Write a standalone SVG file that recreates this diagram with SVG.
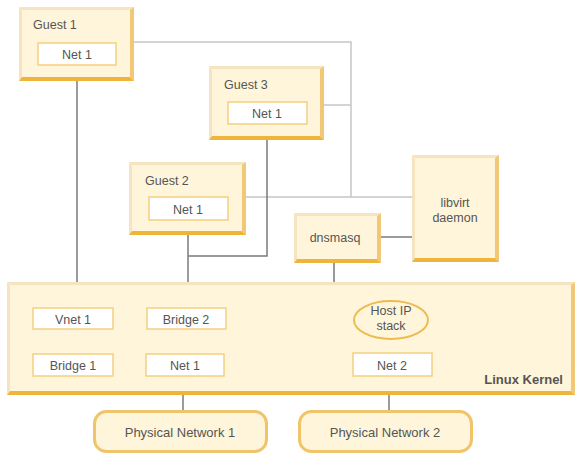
<svg xmlns="http://www.w3.org/2000/svg" width="576" height="453" viewBox="0 0 576 453">
<style>
.fill{fill:#fff5da}
.bt{fill:#f6e3c0}
.br{fill:#f1c877}
.bb{fill:#eeb43c}
.inner{fill:#ffffff;stroke:#f5cf80;stroke-width:1.5}
.t{font-family:"Liberation Sans",Arial,sans-serif;font-size:12.5px;fill:#555555}
.c{text-anchor:middle}
.k{font-family:"Liberation Sans",Arial,sans-serif;font-size:13px;font-weight:bold;fill:#555555;text-anchor:end}
.dk{stroke:#7a7a7a;stroke-width:1.5;fill:none}
.lt{stroke:#c6c6c6;stroke-width:1.5;fill:none}
.phys{fill:#fff5da;stroke:#f0c46a;stroke-width:3}
</style>
<rect width="576" height="453" fill="#ffffff"/>
<g id="connectors">
<polyline class="lt" points="134,42 351,42 351,197"/>
<line class="lt" x1="324" y1="105" x2="351" y2="105"/>
<line class="lt" x1="246" y1="197" x2="412" y2="197"/>
<line class="dk" x1="381" y1="237" x2="412" y2="237"/>
<line class="dk" x1="77" y1="65" x2="77" y2="308"/>
<polyline class="dk" points="267,124 267,256 188,256"/>
<line class="dk" x1="188" y1="220" x2="188" y2="308"/>
<polyline class="dk" points="334,263 334,318 226,318"/>
<line class="dk" x1="76" y1="329" x2="76" y2="354"/>
<line class="dk" x1="113" y1="364" x2="146" y2="364"/>
<line class="dk" x1="183" y1="376" x2="183" y2="411"/>
<line class="dk" x1="389" y1="339" x2="389" y2="353"/>
<line class="dk" x1="389" y1="376" x2="389" y2="411"/>
</g>
<g id="kernel">
<rect class="fill" x="7" y="282" width="568" height="113"/>
<polygon class="bt" points="7,282 575,282 571,285 10,285"/>
<polygon class="bt" points="7,282 10,285 10,391 7,395"/>
<polygon class="br" points="575,282 575,395 571,391 571,285"/>
<polygon class="bb" points="7,395 575,395 571,391 10,391"/>
<text class="k" x="563" y="384">Linux Kernel</text>
</g>
<g id="guest1">
<rect class="fill" x="19" y="7" width="115" height="74"/>
<polygon class="bt" points="19,7 134,7 130,10 22,10"/>
<polygon class="bt" points="19,7 22,10 22,77 19,81"/>
<polygon class="br" points="134,7 134,81 130,77 130,10"/>
<polygon class="bb" points="19,81 134,81 130,77 22,77"/>
<text class="t" x="33" y="29">Guest 1</text>
<rect class="inner" x="38" y="43" width="78" height="22"/>
<text class="t c" x="77" y="59">Net 1</text>
</g>
<g id="guest3">
<rect class="fill" x="209" y="66" width="115" height="74"/>
<polygon class="bt" points="209,66 324,66 320,69 212,69"/>
<polygon class="bt" points="209,66 212,69 212,136 209,140"/>
<polygon class="br" points="324,66 324,140 320,136 320,69"/>
<polygon class="bb" points="209,140 324,140 320,136 212,136"/>
<text class="t" x="224" y="89">Guest 3</text>
<rect class="inner" x="228" y="102" width="79" height="22"/>
<text class="t c" x="267" y="118">Net 1</text>
</g>
<g id="guest2">
<rect class="fill" x="129" y="162" width="117" height="73"/>
<polygon class="bt" points="129,162 246,162 242,165 132,165"/>
<polygon class="bt" points="129,162 132,165 132,231 129,235"/>
<polygon class="br" points="246,162 246,235 242,231 242,165"/>
<polygon class="bb" points="129,235 246,235 242,231 132,231"/>
<text class="t" x="145" y="185">Guest 2</text>
<rect class="inner" x="149" y="197" width="79" height="23"/>
<text class="t c" x="188" y="214">Net 1</text>
</g>
<g id="libvirt">
<rect class="fill" x="412" y="155" width="87" height="107"/>
<polygon class="bt" points="412,155 499,155 495,158 415,158"/>
<polygon class="bt" points="412,155 415,158 415,258 412,262"/>
<polygon class="br" points="499,155 499,262 495,258 495,158"/>
<polygon class="bb" points="412,262 499,262 495,258 415,258"/>
<text class="t c" x="455" y="207">libvirt</text>
<text class="t c" x="455" y="222">daemon</text>
</g>
<g id="dnsmasq">
<rect class="fill" x="294" y="213" width="87" height="50"/>
<polygon class="bt" points="294,213 381,213 377,216 297,216"/>
<polygon class="bt" points="294,213 297,216 297,259 294,263"/>
<polygon class="br" points="381,213 381,263 377,259 377,216"/>
<polygon class="bb" points="294,263 381,263 377,259 297,259"/>
<text class="t c" x="335" y="242">dnsmasq</text>
</g>
<g id="vnet1">
<rect class="inner" x="33" y="308" width="80" height="21"/>
<text class="t c" x="73" y="324">Vnet 1</text>
</g>
<g id="bridge2">
<rect class="inner" x="147" y="308" width="79" height="21"/>
<text class="t c" x="186" y="324">Bridge 2</text>
</g>
<g id="bridge1">
<rect class="inner" x="33" y="354" width="80" height="22"/>
<text class="t c" x="73" y="370">Bridge 1</text>
</g>
<g id="knet1">
<rect class="inner" x="146" y="354" width="78" height="22"/>
<text class="t c" x="185" y="370">Net 1</text>
</g>
<g id="hostip">
<ellipse cx="391" cy="320" rx="37" ry="19" fill="#fff5da" stroke="#eebb50" stroke-width="2"/>
<text class="t c" x="391" y="315">Host IP</text>
<text class="t c" x="391" y="330">stack</text>
</g>
<g id="net2">
<rect class="inner" x="353" y="353" width="79" height="23"/>
<text class="t c" x="392" y="370">Net 2</text>
</g>
<g id="phys1">
<rect class="phys" x="94.5" y="411.5" width="172" height="40" rx="12"/>
<text class="t c" x="180" y="437" style="font-size:13px">Physical Network 1</text>
</g>
<g id="phys2">
<rect class="phys" x="299.5" y="411.5" width="172" height="40" rx="12"/>
<text class="t c" x="385" y="437" style="font-size:13px">Physical Network 2</text>
</g>
</svg>
